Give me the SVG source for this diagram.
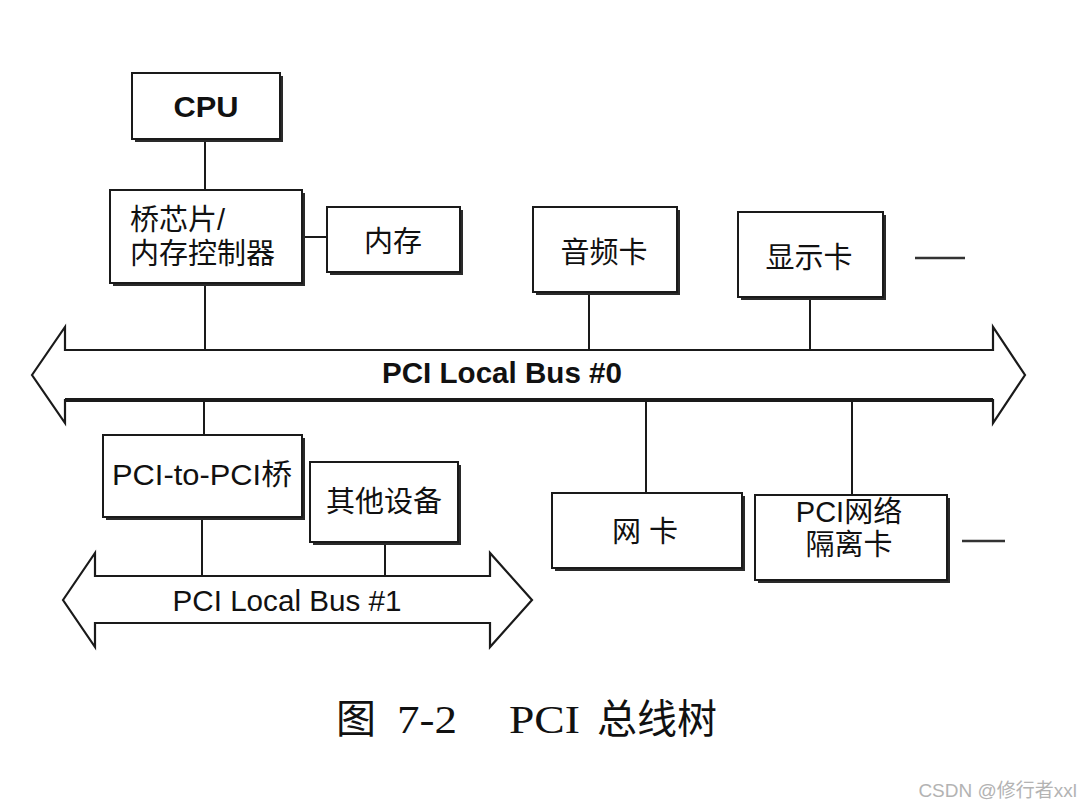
<svg xmlns="http://www.w3.org/2000/svg" width="1080" height="811" viewBox="0 0 1080 811">
<style>
.box{fill:#fff;stroke:#1a1a1a;stroke-width:2}
.sh{fill:#2a2a2a}
.t{font-family:"Liberation Sans","Noto Sans CJK SC",Arial,sans-serif;fill:#111;font-size:29px}
.c{text-anchor:middle}
.b{font-weight:bold}
.ln{stroke:#1a1a1a;stroke-width:2;fill:none}
.bus{fill:#fff;stroke:#1a1a1a;stroke-width:2.2;stroke-linejoin:miter}
.cap{font-family:"Liberation Serif","Noto Sans CJK SC",serif;fill:#111;font-size:40px}
</style>
<rect width="1080" height="811" fill="#fff"/>

<g id="connectors">
<line class="ln" x1="205" y1="139" x2="205" y2="190"/>
<line class="ln" x1="302" y1="237" x2="327" y2="237"/>
<line class="ln" x1="205" y1="283" x2="205" y2="350"/>
<line class="ln" x1="589" y1="292" x2="589" y2="350"/>
<line class="ln" x1="810" y1="297" x2="810" y2="350"/>
<line class="ln" x1="204" y1="400" x2="204" y2="435"/>
<line class="ln" x1="646" y1="400" x2="646" y2="493"/>
<line class="ln" x1="852" y1="400" x2="852" y2="495"/>
<line class="ln" x1="202" y1="517" x2="202" y2="576"/>
<line class="ln" x1="385" y1="542" x2="385" y2="576"/>
</g>

<g id="bus0">
<polygon class="bus" points="32,375 65,327 65,350 993,350 993,327 1025,375 993,423 993,400 65,400 65,423"/>
<line x1="65" y1="400" x2="993" y2="400" stroke="#1a1a1a" stroke-width="4"/>
<text class="t b c" x="502" y="383" font-size="26" textLength="240" lengthAdjust="spacingAndGlyphs">PCI Local Bus #0</text>
</g>

<g id="bus1">
<polygon class="bus" points="63,600 95,553 95,576 490,576 490,553 532,600 490,647 490,623 95,623 95,647"/>
<text class="t c" x="287" y="611" font-size="28" textLength="229" lengthAdjust="spacingAndGlyphs">PCI Local Bus #1</text>
</g>

<g id="cpu">
<rect class="sh" x="135" y="76" width="148" height="66"/>
<rect class="box" x="132" y="73" width="148" height="66"/>
<text class="t b c" x="206" y="117" font-size="28" textLength="65" lengthAdjust="spacingAndGlyphs">CPU</text>
</g>

<g id="bridge">
<rect class="sh" x="113" y="193" width="192" height="93"/>
<rect class="box" x="110" y="190" width="192" height="93"/>
<text class="t" x="130" y="230" font-size="30">桥芯片/</text>
<text class="t" x="130" y="264" font-size="30">内存控制器</text>
</g>

<g id="memory">
<rect class="sh" x="330" y="210" width="133" height="65"/>
<rect class="box" x="327" y="207" width="133" height="65"/>
<text class="t c" x="393" y="252" font-size="29">内存</text>
</g>

<g id="audio">
<rect class="sh" x="536" y="210" width="144" height="85"/>
<rect class="box" x="533" y="207" width="144" height="85"/>
<text class="t c" x="604" y="263" font-size="30">音频卡</text>
</g>

<g id="display">
<rect class="sh" x="741" y="215" width="145" height="85"/>
<rect class="box" x="738" y="212" width="145" height="85"/>
<text class="t c" x="809" y="268" font-size="29">显示卡</text>
</g>

<g id="p2p">
<rect class="sh" x="106" y="438" width="199" height="82"/>
<rect class="box" x="103" y="435" width="199" height="82"/>
<text class="t c" x="202" y="485" font-size="30" textLength="180" lengthAdjust="spacingAndGlyphs">PCI-to-PCI桥</text>
</g>

<g id="other">
<rect class="sh" x="313" y="465" width="148" height="80"/>
<rect class="box" x="310" y="462" width="148" height="80"/>
<text class="t c" x="384" y="512" font-size="28">其他设备</text>
</g>

<g id="nic">
<rect class="sh" x="555" y="496" width="190" height="75"/>
<rect class="box" x="552" y="493" width="190" height="75"/>
<text class="t c" x="645" y="542" font-size="28" xml:space="preserve">网 卡</text>
</g>

<g id="isolation">
<rect class="sh" x="758" y="498" width="192" height="85"/>
<rect class="box" x="755" y="495" width="192" height="85"/>
<text class="t c" x="849" y="522" font-size="28">PCI网络</text>
<text class="t c" x="849" y="555" font-size="29">隔离卡</text>
</g>

<g id="ellipsis">
<line x1="915" y1="258" x2="965" y2="258" stroke="#333" stroke-width="2.5"/>
<line x1="962" y1="541" x2="1005" y2="541" stroke="#333" stroke-width="2.5"/>
</g>

<g id="caption">
<text class="cap" x="336" y="733">图</text>
<text class="cap" x="397" y="733" font-size="42" textLength="60" lengthAdjust="spacingAndGlyphs">7-2</text>
<text class="cap" x="509" y="733" font-size="42" textLength="71" lengthAdjust="spacingAndGlyphs">PCI</text>
<text class="cap" x="597" y="733" font-size="44">总线树</text>
</g>

<text x="1077" y="797" text-anchor="end" font-family="'Liberation Sans','Noto Sans CJK SC',sans-serif" font-size="19" fill="#b3b3b3">CSDN @修行者xxl</text>
</svg>
